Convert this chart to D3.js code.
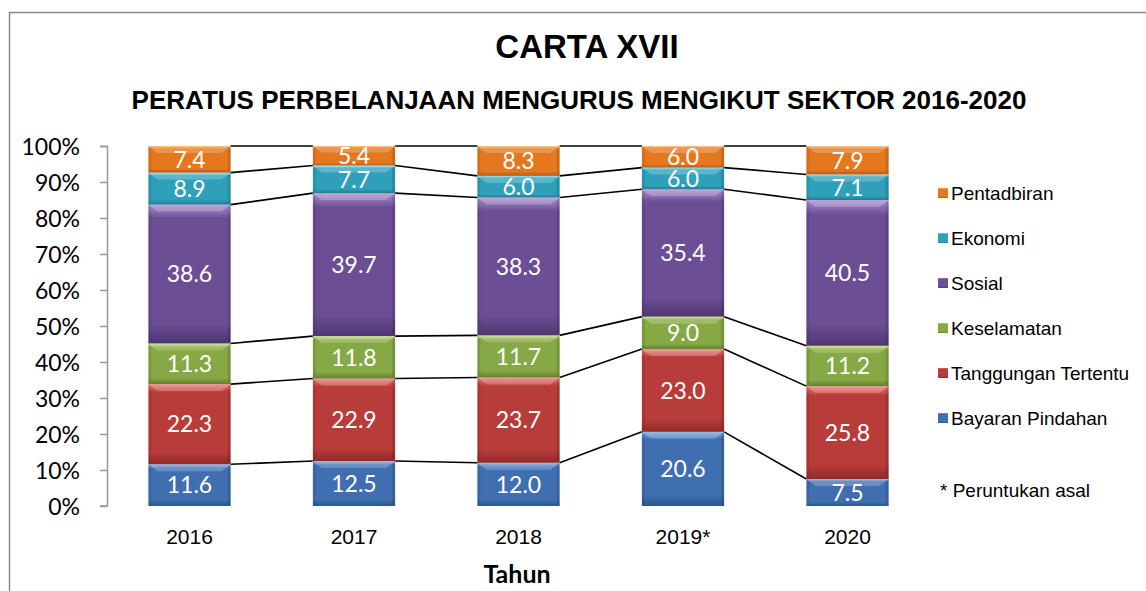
<!DOCTYPE html>
<html><head><meta charset="utf-8">
<script src="https://cdn.jsdelivr.net/npm/d3@7"></script>
<style>body{margin:0;background:#fff}svg{display:block}</style>
</head><body>
<script>
const years = ["2016","2017","2018","2019*","2020"];
const seriesNames = ["Bayaran Pindahan","Tanggungan Tertentu","Keselamatan","Sosial","Ekonomi","Pentadbiran"];
const bayaranPindahan = [11.6,12.5,12.0,20.6,7.5];
const tanggunganTertentu = [22.3,22.9,23.7,23.0,25.8];
const keselamatan = [11.3,11.8,11.7,9.0,11.2];
const sosial = [38.6,39.7,38.3,35.4,40.5];
const ekonomi = [8.9,7.7,6.0,6.0,7.1];
const pentadbiran = [7.4,5.4,8.3,6.0,7.9];
const yTicks = [0,10,20,30,40,50,60,70,80,90,100];
const colors = {
 "Bayaran Pindahan":["#7aaae6","#3f6fb0","#2a5590"],
 "Tanggungan Tertentu":["#f07a76","#b83c39","#8f2a28"],
 "Keselamatan":["#c2e07a","#86a845","#647f2f"],
 "Sosial":["#a98ed0","#6c4e94","#4f3772"],
 "Ekonomi":["#7ee0f8","#2fa0ba","#1f7a90"],
 "Pentadbiran":["#ffb460","#e5781e","#b85a10"]
};
const values = [bayaranPindahan,tanggunganTertentu,keselamatan,sosial,ekonomi,pentadbiran];

const W=1146,H=591;
const svg=d3.select("body").append("svg").attr("width",W).attr("height",H);
const defs=svg.append("defs");
seriesNames.forEach((s,i)=>{
  const g=defs.append("linearGradient").attr("id","g"+i).attr("x1",0).attr("y1",0).attr("x2",0).attr("y2",1);
  g.append("stop").attr("offset","0%").attr("stop-color",colors[s][0]);
  g.append("stop").attr("offset","10%").attr("stop-color",colors[s][1]);
  g.append("stop").attr("offset","85%").attr("stop-color",colors[s][1]);
  g.append("stop").attr("offset","100%").attr("stop-color",colors[s][2]);
});

// frame
svg.append("rect").attr("x",9.5).attr("y",12.5).attr("width",1150).attr("height",600)
  .attr("fill","none").attr("stroke","#888").attr("stroke-width",1.5);

svg.append("text").attr("x",587).attr("y",58).attr("text-anchor","middle")
  .attr("font-family","Liberation Sans, Arial, sans-serif").attr("font-weight","bold").attr("font-size",33).text("CARTA XVII");
svg.append("text").attr("x",579).attr("y",109).attr("text-anchor","middle")
  .attr("font-family","Liberation Sans, Arial, sans-serif").attr("font-weight","bold").attr("font-size",26).text("PERATUS PERBELANJAAN MENGURUS MENGIKUT SEKTOR 2016-2020");

const x=d3.scaleBand().domain(years).range([107.25,929.75]).paddingInner(0.5).paddingOuter(0.25);
const y=d3.scaleLinear().domain([0,100]).range([506,146]);

// y axis
const yAxis=svg.append("g").attr("transform","translate(107,0)")
  .call(d3.axisLeft(y).tickValues(yTicks).tickFormat(d=>d+"%").tickSize(7).tickPadding(20));
yAxis.selectAll("path,line").attr("stroke","#999").attr("stroke-width",1.5);
yAxis.select(".domain").attr("d","M-7,146.5H0.5V506H-7");
yAxis.selectAll("text").attr("font-family","Lato, Carlito, sans-serif").attr("font-size",23).attr("fill","#000").attr("dy","0.35em");

// x labels
svg.append("g").selectAll("text").data(years).join("text")
  .attr("x",d=>x(d)+x.bandwidth()/2).attr("y",544).attr("text-anchor","middle")
  .attr("font-family","Liberation Sans, Arial, sans-serif").attr("font-size",21).text(d=>d);
svg.append("text").attr("x",517).attr("y",583).attr("text-anchor","middle")
  .attr("font-family","Lato, Carlito, sans-serif").attr("font-weight","bold").attr("font-size",25).text("Tahun");

// stack
const table=years.map((yr,j)=>{const o={year:yr};seriesNames.forEach((s,i)=>o[s]=values[i][j]);return o;});
const stack=d3.stack().keys(seriesNames).offset(d3.stackOffsetExpand);
const layers=stack(table);

// connector lines
const conn=svg.append("g");
layers.forEach(layer=>{
  for(let j=0;j<years.length-1;j++){
    conn.append("line")
      .attr("x1",x(years[j])+x.bandwidth()).attr("x2",x(years[j+1]))
      .attr("y1",y(layer[j][1]*100)).attr("y2",y(layer[j+1][1]*100))
      .attr("stroke","#000").attr("stroke-width",1.6);
  }
});

const bw=x.bandwidth();
layers.forEach((layer,i)=>{
  const g=svg.append("g");
  layer.forEach((d,j)=>{
    const x0=x(years[j]), y0=y(d[1]*100), y1=y(d[0]*100), h=y1-y0;
    g.append("rect").attr("x",x0).attr("y",y0).attr("width",bw).attr("height",h).attr("fill","url(#g"+i+")");
    const b=Math.min(7,h/3);
    g.append("path").attr("d",`M${x0},${y0}H${x0+bw}L${x0+bw-b*1.3},${y0+b}H${x0+b*1.3}Z`).attr("fill","#fff").attr("opacity",0.22);
    g.append("path").attr("d",`M${x0+bw},${y0}V${y1}L${x0+bw-3},${y1-3}V${y0+3}Z`).attr("fill","#000").attr("opacity",0.12);
    g.append("path").attr("d",`M${x0},${y0}V${y1}L${x0+3},${y1-3}V${y0+3}Z`).attr("fill","#000").attr("opacity",0.08);
    g.append("text").attr("x",x0+bw/2).attr("y",(y0+y1)/2).attr("dy","0.36em").attr("text-anchor","middle")
      .attr("fill","#fff").attr("font-family","Lato, Carlito, sans-serif").attr("font-size",23)
      .text(d.data[seriesNames[i]].toFixed(1));
  });
});

// legend
const legendOrder=seriesNames.slice().reverse();
const lg=svg.append("g");
legendOrder.forEach((s,k)=>{
  const idx=seriesNames.indexOf(s);
  const cy=193+k*45;
  lg.append("rect").attr("x",938).attr("y",cy-5).attr("width",10).attr("height",10).attr("fill","url(#g"+idx+")");
  lg.append("text").attr("x",951).attr("y",cy).attr("dy","0.35em")
    .attr("font-family","Liberation Sans, Arial, sans-serif").attr("font-size",19).text(s);
});
lg.append("text").attr("x",940).attr("y",490).attr("dy","0.35em")
  .attr("font-family","Liberation Sans, Arial, sans-serif").attr("font-size",19).text("* Peruntukan asal");
</script>
</body></html>
